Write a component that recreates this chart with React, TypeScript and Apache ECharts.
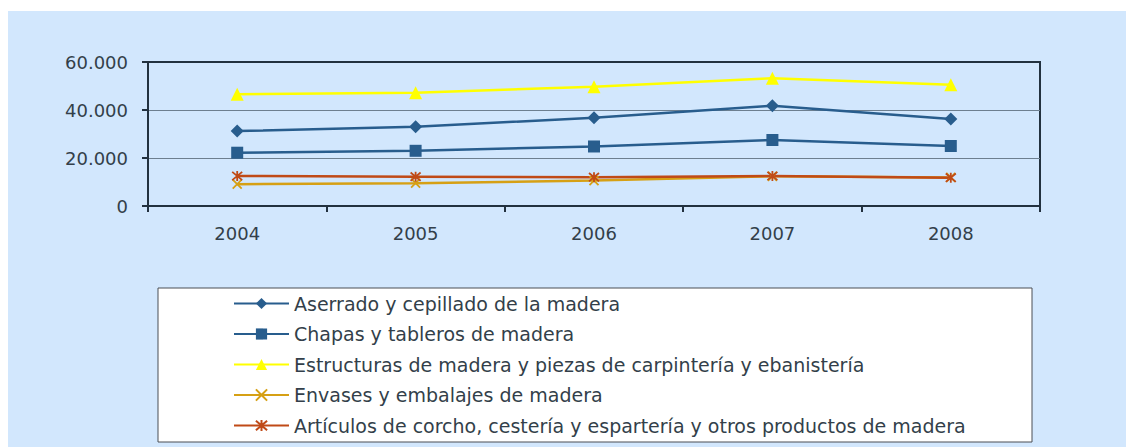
import React, { useEffect, useRef } from "react";
import * as echarts from "echarts";

const years = ["2004", "2005", "2006", "2007", "2008"];
const yTicks = [0, 20000, 40000, 60000];
const aserrado = [31200, 33000, 36800, 41800, 36300];
const chapas = [22200, 23000, 24800, 27500, 25000];
const estructuras = [46600, 47200, 49700, 53200, 50500];
const envases = [9100, 9500, 10600, 12400, 11900];
const articulos = [12500, 12200, 12000, 12500, 11800];

const seriesNames = [
  "Aserrado y cepillado de la madera",
  "Chapas y tableros de madera",
  "Estructuras de madera y piezas de carpintería y ebanistería",
  "Envases y embalajes de madera",
  "Artículos de corcho, cestería y espartería y otros productos de madera",
];

const FONT = "'Century Gothic', 'DejaVu Sans', sans-serif";
const TEXT = "#333f4a";
const AXIS = "#22313f";
const BLUE = "#285d8d";
const YELLOW = "#ffff00";
const ORANGE = "#d6a014";
const RED = "#c04a17";

const X_PATH = "path://M0,0L10,10M10,0L0,10";
const STAR_PATH = "path://M0,0L10,10M10,0L0,10M5,-1L5,11";

function fmt(v: number) {
  if (v === 0) return "0";
  const s = String(Math.round(v));
  return s.replace(/\B(?=(\d{3})+(?!\d))/g, ".");
}

export default function App() {
  const ref = useRef<HTMLDivElement>(null);
  useEffect(() => {
    if (!ref.current) return;
    const chart = echarts.init(ref.current, null, { renderer: "svg" });
    const mk = (
      name: string,
      data: number[],
      color: string,
      symbol: string,
      symbolSize: number,
      stroke: boolean
    ) => ({
      name,
      type: "line",
      data,
      symbol,
      symbolSize,
      showSymbol: true,
      lineStyle: { color, width: 2.5 },
      itemStyle: stroke
        ? { color, borderColor: color, borderWidth: 1.8 }
        : { color, borderWidth: 0 },
      emphasis: { disabled: true },
    });
    chart.setOption({
      animation: false,
      backgroundColor: "transparent",
      textStyle: { fontFamily: FONT },
      graphic: [
        {
          type: "rect",
          shape: { x: 150, y: 277, width: 874, height: 154 },
          style: { fill: "#ffffff", stroke: "#4a4f55", lineWidth: 1 },
          z: 0,
        },
      ],
      grid: {
        left: 140,
        top: 51,
        width: 892,
        height: 144,
        show: true,
        borderColor: AXIS,
        borderWidth: 2,
        backgroundColor: "transparent",
      },
      xAxis: {
        type: "category",
        data: years,
        boundaryGap: true,
        axisLine: { lineStyle: { color: AXIS, width: 2 } },
        axisTick: { show: true, alignWithLabel: false, length: 6, lineStyle: { color: AXIS, width: 2 } },
        axisLabel: { color: TEXT, fontSize: 18, fontFamily: FONT, margin: 18 },
      },
      yAxis: {
        type: "value",
        min: yTicks[0],
        max: yTicks[yTicks.length - 1],
        interval: yTicks[1] - yTicks[0],
        axisLine: { show: true, lineStyle: { color: AXIS, width: 2 } },
        axisTick: { show: true, length: 6, lineStyle: { color: AXIS, width: 2 } },
        axisLabel: { color: TEXT, fontSize: 18, fontFamily: FONT, margin: 20, formatter: (v: number) => fmt(v) },
        splitLine: { show: true, showMinLine: false, showMaxLine: false, lineStyle: { color: "#6d7f8f", width: 1.2 } },
      },
      legend: {
        show: true,
        orient: "vertical",
        left: 225,
        top: 283,
        padding: 0,
        itemWidth: 55,
        itemHeight: 14,
        itemGap: 11.5,
        textStyle: { color: TEXT, fontSize: 19, fontFamily: FONT },
        data: seriesNames,
      },
      series: [
        mk(seriesNames[0], aserrado, BLUE, "diamond", 13, false),
        mk(seriesNames[1], chapas, BLUE, "rect", 12, false),
        mk(seriesNames[2], estructuras, YELLOW, "triangle", 13, false),
        mk(seriesNames[3], envases, ORANGE, X_PATH, 9, true),
        mk(seriesNames[4], articulos, RED, STAR_PATH, 10, true),
      ],
    });
    return () => chart.dispose();
  }, []);
  return (
    <div style={{ position: "fixed", left: 8, top: 11, right: 0, bottom: 0, background: "#d2e7fd", overflow: "hidden" }}>
      <div ref={ref} style={{ width: 1118, height: 436 }} />
    </div>
  );
}
